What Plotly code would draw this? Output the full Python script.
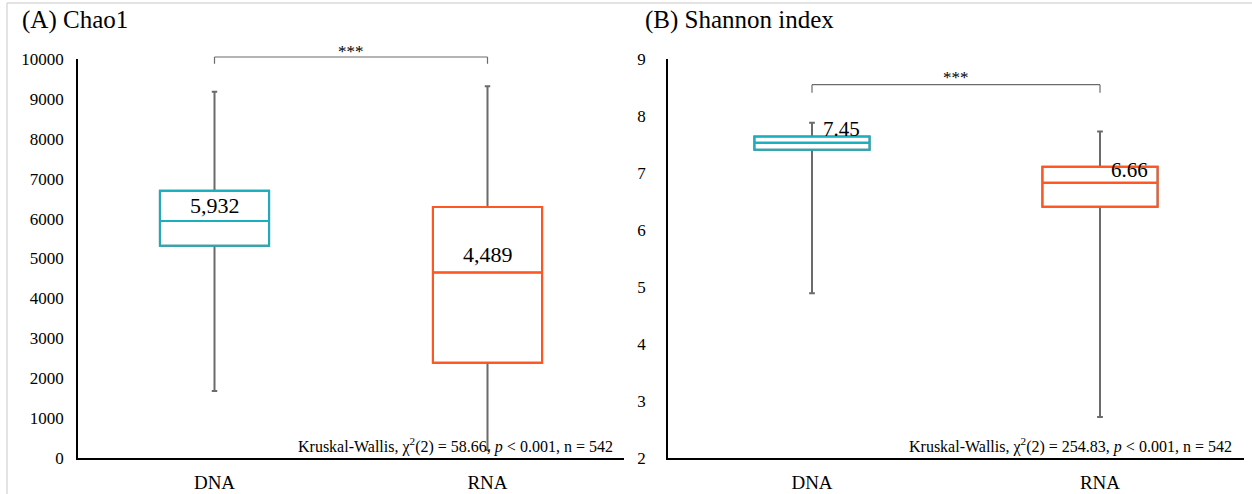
import plotly.graph_objects as go

# ---------------- data ----------------
groups = ["DNA", "RNA"]

chao_lower = [1680, 200]
chao_q1 = [5320, 2390]
chao_median = [5940, 4650]
chao_q3 = [6700, 6290]
chao_upper = [9180, 9320]
chao_labels = ["5,932", "4,489"]
chao_label_y = [6340, 5110]

shan_lower = [4.89, 2.72]
shan_q1 = [7.41, 6.41]
shan_median = [7.53, 6.83]
shan_q3 = [7.64, 7.11]
shan_upper = [7.88, 7.73]
shan_labels = ["7.45", "6.66"]
shan_label_y = [7.78, 7.06]

chao_range = [0, 10000]
shan_range = [2, 9]
chao_ticks = [0, 1000, 2000, 3000, 4000, 5000, 6000, 7000, 8000, 9000, 10000]
chao_ticktext = ["0", "1000", "2000", "3000", "4000", "5000", "6000", "7000", "8000", "9000", "10000"]
shan_ticks = [2, 3, 4, 5, 6, 7, 8, 9]

kw_texts = [
    "Kruskal-Wallis, χ<sup>2</sup>(2) = 58.66, <i>p</i> < 0.001, n = 542",
    "Kruskal-Wallis, χ<sup>2</sup>(2) = 254.83, <i>p</i> < 0.001, n = 542",
]
titles = ["(A) Chao1", "(B) Shannon index"]
sig_text = "***"
chao_bracket = (10050, 9880, 10190)
shan_bracket = (8.55, 8.41, 8.67)

colors = ["#1AAFBF", "#FF5722"]
whisker_color = "#6B6B6B"
FONT = "Liberation Serif, Times New Roman, serif"

W, H = 1252, 494

fig = go.Figure()

def add_panel(xa, ya, lower, q1, med, q3, upper, bw):
    for i, g in enumerate(groups):
        # whiskers (gray)
        fig.add_trace(go.Box(
            x=[g], q1=[q1[i]], median=[med[i]], q3=[q3[i]],
            lowerfence=[lower[i]], upperfence=[upper[i]],
            width=bw, whiskerwidth=0.05,
            line=dict(color=whisker_color, width=2), fillcolor="white",
            boxpoints=False, showlegend=False, hoverinfo="skip",
            xaxis=xa, yaxis=ya))
        # colored box on top
        fig.add_trace(go.Box(
            x=[g], q1=[q1[i]], median=[med[i]], q3=[q3[i]],
            lowerfence=[q1[i]], upperfence=[q3[i]],
            width=bw, whiskerwidth=0,
            line=dict(color=colors[i], width=2), fillcolor="rgba(255,255,255,0)",
            boxpoints=False, showlegend=False, hoverinfo="skip",
            xaxis=xa, yaxis=ya))

add_panel("x", "y", chao_lower, chao_q1, chao_median, chao_q3, chao_upper, 0.40)
add_panel("x2", "y2", shan_lower, shan_q1, shan_median, shan_q3, shan_upper, 0.40)

ydom = [1 - 458 / H, 1 - 59 / H]
xdomA = [78 / W, 624 / W]
xdomB = [668 / W, 1244 / W]

line_common = dict(showgrid=False, zeroline=False, showline=True, linecolor="black",
                   linewidth=1.5, ticks="", automargin=False)
xfont = dict(family=FONT, size=19, color="black")
yfont = dict(family=FONT, size=17, color="black")

fig.update_layout(
    width=W, height=H,
    margin=dict(l=0, r=0, t=0, b=0),
    paper_bgcolor="white", plot_bgcolor="white",
    boxmode="overlay",
    showlegend=False,
    xaxis=dict(domain=xdomA, type="category", categoryorder="array", categoryarray=groups,
               range=[-0.5, 1.5], anchor="y", ticklabelstandoff=6, tickfont=xfont,
               **line_common),
    yaxis=dict(domain=ydom, range=chao_range, tickvals=chao_ticks, ticktext=chao_ticktext,
               anchor="x", ticklabelstandoff=9, tickfont=yfont, **line_common),
    xaxis2=dict(domain=xdomB, type="category", categoryorder="array", categoryarray=groups,
                range=[-0.5, 1.5], anchor="y2", ticklabelstandoff=6, tickfont=xfont,
                **line_common),
    yaxis2=dict(domain=ydom, range=shan_range, tickvals=shan_ticks, anchor="x2",
                ticklabelstandoff=17, tickfont=yfont, **line_common),
)

annotations = []
shapes = []

# value labels
for i in range(2):
    annotations.append(dict(x=i, y=chao_label_y[i], xref="x", yref="y", text=chao_labels[i],
                            showarrow=False, xanchor="center", yanchor="middle",
                            font=dict(family=FONT, size=22, color="black")))
shan_label_x = [0.03, 1.03]
for i in range(2):
    annotations.append(dict(x=shan_label_x[i], y=shan_label_y[i], xref="x2", yref="y2",
                            text=shan_labels[i], showarrow=False, xanchor="left",
                            yanchor="middle",
                            font=dict(family=FONT, size=21, color="black")))

# brackets
for (xr, yr, rng, br) in [("x", "y", chao_range, chao_bracket), ("x2", "y2", shan_range, shan_bracket)]:
    top = (br[0] - rng[0]) / (rng[1] - rng[0])
    bot = (br[1] - rng[0]) / (rng[1] - rng[0])
    txt = (br[2] - rng[0]) / (rng[1] - rng[0])
    ln = dict(color=whisker_color, width=1.2)
    shapes.append(dict(type="line", xref=xr + " domain", yref=yr + " domain",
                       x0=0.25, x1=0.75, y0=top, y1=top, line=ln))
    shapes.append(dict(type="line", xref=xr + " domain", yref=yr + " domain",
                       x0=0.25, x1=0.25, y0=top, y1=bot, line=ln))
    shapes.append(dict(type="line", xref=xr + " domain", yref=yr + " domain",
                       x0=0.75, x1=0.75, y0=top, y1=bot, line=ln))
    annotations.append(dict(x=0.5, y=txt, xref=xr + " domain", yref=yr + " domain",
                            text=sig_text, showarrow=False, xanchor="center",
                            yanchor="middle",
                            font=dict(family=FONT, size=17, color="black")))

# Kruskal-Wallis text
kw_right = [615 / W, 1234 / W]
for j, (xr, yr, t) in enumerate([("x", "y", kw_texts[0]), ("x2", "y2", kw_texts[1])]):
    annotations.append(dict(x=kw_right[j], y=0, xref="paper", yref=yr + " domain", text=t,
                            showarrow=False, xanchor="right", yanchor="bottom", yshift=0,
                            font=dict(family=FONT, size=16, color="black")))

# titles
annotations.append(dict(x=20 / W, y=1 - 20 / H, xref="paper", yref="paper", text=titles[0],
                        showarrow=False, xanchor="left", yanchor="middle",
                        font=dict(family=FONT, size=25, color="black")))
annotations.append(dict(x=643 / W, y=1 - 20 / H, xref="paper", yref="paper", text=titles[1],
                        showarrow=False, xanchor="left", yanchor="middle",
                        font=dict(family=FONT, size=25, color="black")))

# frame lines
shapes.append(dict(type="line", xref="paper", yref="paper", x0=7 / W, x1=1, y0=1 - 3 / H,
                   y1=1 - 3 / H, line=dict(color="#C8C8C8", width=1)))
shapes.append(dict(type="line", xref="paper", yref="paper", x0=7 / W, x1=7 / W, y0=0,
                   y1=1 - 3 / H, line=dict(color="#C8C8C8", width=1)))

fig.update_layout(annotations=annotations, shapes=shapes)

fig.write_html("out.html")
